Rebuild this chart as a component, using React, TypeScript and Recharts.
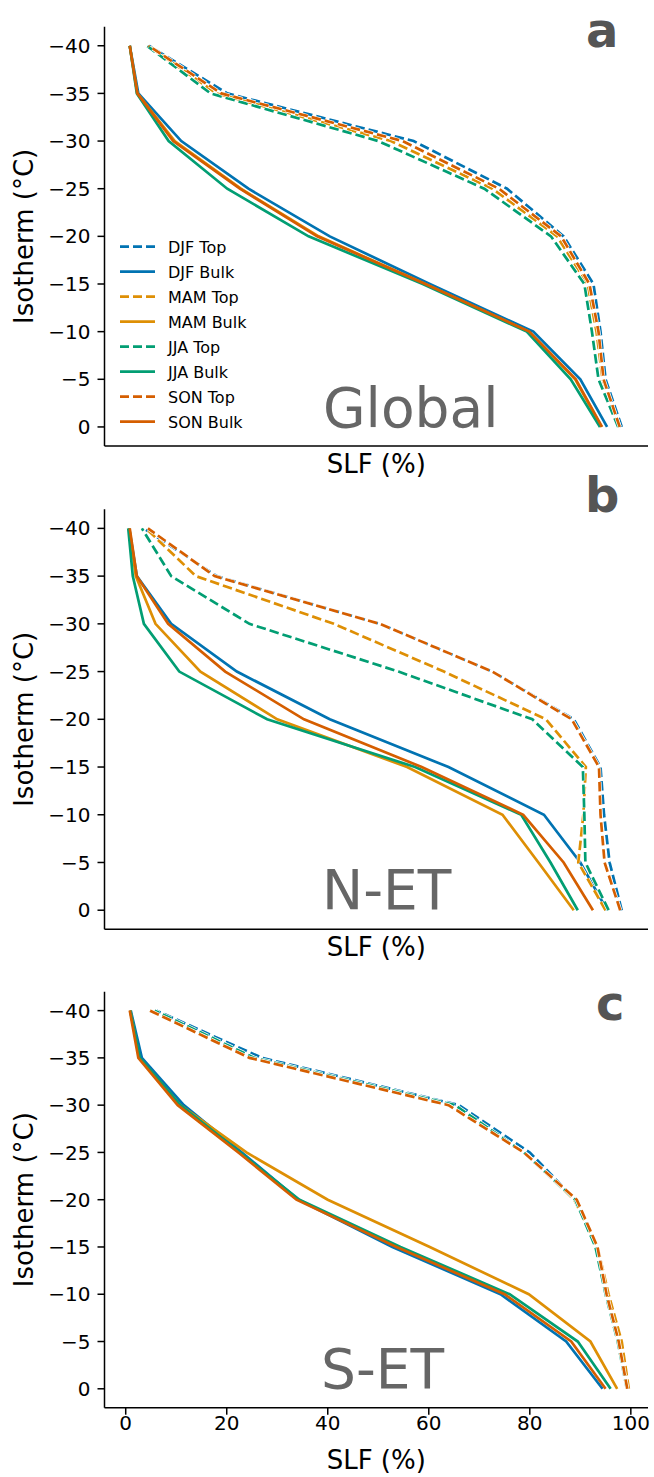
import React from "react";
import { LineChart, Line, XAxis, YAxis, Legend, Label } from "recharts";

const isotherms = [0, -5, -10, -15, -20, -25, -30, -35, -40];
const isoTicks = [-40, -35, -30, -25, -20, -15, -10, -5, 0];
const slfTicks = [0, 20, 40, 60, 80, 100];

// SLF (%) read at each isotherm, 0 -> -40 °C
const globalDjfTop = [98.2, 95.0, 94.0, 92.6, 86.7, 75.5, 57.0, 20.1, 4.6];
const globalDjfBulk = [95.3, 90.0, 80.7, 60.2, 40.4, 24.3, 11.0, 2.5, 0.8];
const globalMamTop = [97.8, 94.4, 93.2, 91.4, 85.4, 72.6, 52.5, 18.0, 4.4];
const globalMamBulk = [94.2, 89.0, 79.8, 59.3, 38.2, 22.8, 9.7, 2.3, 0.8];
const globalJjaTop = [97.5, 93.6, 92.3, 90.8, 84.2, 71.0, 50.0, 16.8, 4.2];
const globalJjaBulk = [93.9, 88.1, 79.4, 58.8, 36.2, 20.1, 8.5, 2.2, 0.8];
const globalSonTop = [97.8, 94.6, 93.6, 91.8, 86.2, 73.9, 54.8, 18.9, 4.5];
const globalSonBulk = [94.3, 89.1, 79.9, 59.3, 37.9, 22.6, 9.4, 2.3, 0.8];

const netDjfTop = [98.2, 95.8, 94.7, 94.0, 88.7, 72.6, 50.3, 18.0, 3.6];
const netDjfBulk = [95.3, 90.0, 82.8, 63.9, 40.4, 22.0, 9.0, 2.2, 0.7];
const netMamTop = [95.0, 89.6, 90.6, 91.1, 83.2, 63.0, 41.2, 13.9, 4.0];
const netMamBulk = [88.7, 81.7, 74.6, 55.7, 30.0, 14.8, 5.9, 2.0, 0.7];
const netJjaTop = [95.6, 91.0, 90.8, 90.5, 80.5, 54.0, 24.5, 9.0, 3.2];
const netJjaBulk = [89.5, 84.1, 78.3, 57.3, 28.0, 10.6, 3.6, 1.4, 0.5];
const netSonTop = [97.9, 94.8, 94.0, 93.7, 88.3, 72.6, 50.3, 17.6, 4.4];
const netSonBulk = [92.5, 86.7, 78.7, 58.6, 35.3, 19.7, 8.4, 2.2, 0.8];

const setDjfTop = [99.3, 97.5, 95.0, 93.2, 89.0, 80.0, 66.0, 27.0, 6.1];
const setDjfBulk = [94.4, 87.2, 74.2, 52.8, 34.2, 23.0, 11.5, 3.2, 1.0];
const setMamTop = [99.6, 98.2, 95.6, 93.4, 88.8, 78.8, 64.3, 24.5, 4.8];
const setMamBulk = [97.3, 92.0, 79.8, 60.2, 40.0, 23.9, 10.8, 2.7, 0.9];
const setJjaTop = [99.2, 97.4, 95.0, 93.0, 89.0, 78.8, 65.2, 25.5, 5.7];
const setJjaBulk = [96.0, 89.5, 76.0, 54.4, 34.4, 22.6, 10.8, 2.8, 0.9];
const setSonTop = [99.3, 97.6, 95.2, 93.4, 89.3, 78.8, 63.9, 24.5, 4.8];
const setSonBulk = [95.0, 88.2, 75.0, 53.6, 33.8, 22.3, 10.3, 2.5, 0.8];

const seriesDefs = [
  { key: "djfTop", label: "DJF Top", color: "#0173b2", dashed: true },
  { key: "djfBulk", label: "DJF Bulk", color: "#0173b2", dashed: false },
  { key: "mamTop", label: "MAM Top", color: "#de8f05", dashed: true },
  { key: "mamBulk", label: "MAM Bulk", color: "#de8f05", dashed: false },
  { key: "jjaTop", label: "JJA Top", color: "#029e73", dashed: true },
  { key: "jjaBulk", label: "JJA Bulk", color: "#029e73", dashed: false },
  { key: "sonTop", label: "SON Top", color: "#d55e00", dashed: true },
  { key: "sonBulk", label: "SON Bulk", color: "#d55e00", dashed: false },
];

const panels = [
  {
    letter: "a", region: "Global", top: 0, height: 496, plotTop: 26.7, plotBottom: 446,
    xAxisHeight: 50, tickLabels: false, legend: true, xLabelDy: 27,
    letterX: 586, letterY: 47, regionX: 323, regionY: 427,
    values: [globalDjfTop, globalDjfBulk, globalMamTop, globalMamBulk, globalJjaTop, globalJjaBulk, globalSonTop, globalSonBulk],
  },
  {
    letter: "b", region: "N-ET", top: 460, height: 520, plotTop: 509.3, plotBottom: 929.3,
    xAxisHeight: 50, tickLabels: false, legend: false, xLabelDy: 27,
    letterX: 585, letterY: 512, regionX: 322, regionY: 909,
    values: [netDjfTop, netDjfBulk, netMamTop, netMamBulk, netJjaTop, netJjaBulk, netSonTop, netSonBulk],
  },
  {
    letter: "c", region: "S-ET", top: 975, height: 500, plotTop: 991.7, plotBottom: 1407.7,
    xAxisHeight: 68, tickLabels: true, legend: false, xLabelDy: 61,
    letterX: 596, letterY: 1020, regionX: 321, regionY: 1388,
    values: [setDjfTop, setDjfBulk, setMamTop, setMamBulk, setJjaTop, setJjaBulk, setSonTop, setSonBulk],
  },
];

const FONT = "DejaVu Sans";
const LW = 2.7;
const DASH = "9.5 4";
const fmt = (v: number) => (v < 0 ? "\u2212" + Math.abs(v) : String(v));

function SeasonLegend() {
  return (
    <svg width={140} height={200} style={{ display: "block" }}>
      {seriesDefs.map((s, i) => (
        <g key={s.key}>
          <line x1={5} x2={40} y1={12.7 + 25 * i} y2={12.7 + 25 * i} stroke={s.color}
            strokeWidth={LW} strokeDasharray={s.dashed ? "9 4" : undefined} />
          <text x={53} y={18.5 + 25 * i} fontSize={16} fill="#000" fontFamily={FONT}>{s.label}</text>
        </g>
      ))}
    </svg>
  );
}

function Panel({ p }: { p: (typeof panels)[number] }) {
  const rows = isotherms.map((iso, i) => {
    const row: Record<string, number> = { iso };
    seriesDefs.forEach((s, j) => { row[s.key] = p.values[j][i]; });
    return row;
  });
  const axisStyle = { stroke: "#000", strokeWidth: 1.5 };
  const mt = p.plotTop - p.top;
  const mb = p.top + p.height - p.plotBottom - p.xAxisHeight;

  return (
    <div style={{ position: "absolute", left: 0, top: p.top }}>
      <LineChart layout="vertical" width={654} height={p.height} data={rows}
        margin={{ top: mt, right: 6, bottom: mb, left: 0 }}>
        <XAxis type="number" domain={[-4.2, 103.4]} ticks={slfTicks} interval={0}
          allowDataOverflow height={p.xAxisHeight} axisLine={axisStyle} tickLine={axisStyle}
          tickSize={7} tickMargin={1} fontSize={20}
          tick={p.tickLabels ? { fill: "#000", fontSize: 20, fontFamily: FONT } : false}>
          <Label content={({ viewBox }: any) => (
            <text x={viewBox.x + viewBox.width / 2} y={viewBox.y + p.xLabelDy} textAnchor="middle"
              fontSize={26} fontFamily={FONT} fill="#000">SLF (%)</text>
          )} />
        </XAxis>
        <YAxis type="number" dataKey="iso" domain={[-42, 2]} ticks={isoTicks} interval={0}
          allowDataOverflow width={104.5} axisLine={axisStyle} tickLine={axisStyle}
          tickSize={7} tickMargin={7} tickFormatter={fmt} fontSize={20}
          tick={{ fill: "#000", fontSize: 20, fontFamily: FONT }}>
          <Label content={({ viewBox }: any) => {
            const cy = viewBox.y + viewBox.height / 2;
            return (
              <text x={33} y={cy} transform={`rotate(-90 33 ${cy})`} textAnchor="middle"
                fontSize={26} fontFamily={FONT} fill="#000">Isotherm (°C)</text>
            );
          }} />
        </YAxis>
        {seriesDefs.flatMap((s) => {
          const lines = [];
          if (s.dashed) {
            lines.push(
              <Line key={s.key + "-halo"} dataKey={s.key} legendType="none" type="linear" stroke="#fff"
                strokeWidth={LW + 1.4} strokeDasharray={DASH} dot={false} activeDot={false}
                isAnimationActive={false} />
            );
          }
          lines.push(
            <Line key={s.key} dataKey={s.key} name={s.label} type="linear" stroke={s.color}
              strokeWidth={LW} strokeDasharray={s.dashed ? DASH : undefined}
              dot={false} activeDot={false} isAnimationActive={false} />
          );
          return lines;
        })}
        <text x={p.regionX} y={p.regionY - p.top} fontSize={55} fontFamily={FONT} fill="#666">
          {p.region}
        </text>
        <text x={p.letterX} y={p.letterY - p.top} fontSize={48} fontWeight="bold" fontFamily={FONT} fill="#555">
          {p.letter}
        </text>
        {p.legend && (
          <Legend layout="vertical" align="center" verticalAlign="middle"
            wrapperStyle={{ left: 115, top: 234, width: 140, height: 200 }}
            content={() => <SeasonLegend />} />
        )}
      </LineChart>
    </div>
  );
}

export default function App() {
  return (
    <div style={{ position: "absolute", left: 0, top: 0, width: 654, height: 1477, background: "#fff", fontFamily: FONT }}>
      {panels.map((p) => <Panel key={p.letter} p={p} />)}
    </div>
  );
}
